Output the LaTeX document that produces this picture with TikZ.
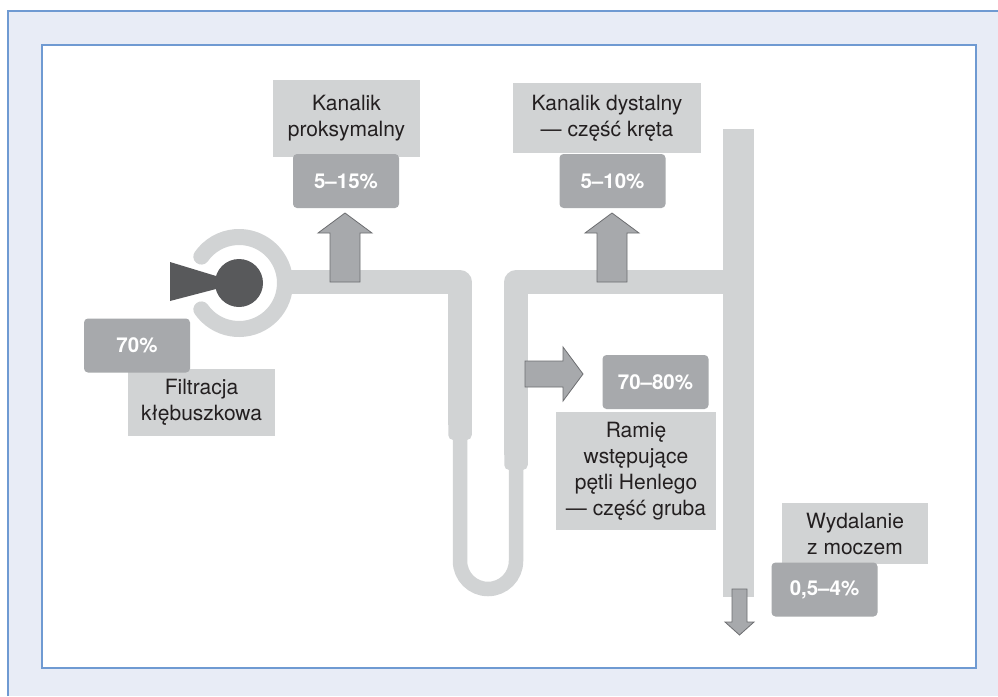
\documentclass[tikz,border=0pt]{standalone}
\usepackage{fontspec}
\setmainfont{TeX Gyre Heros}
\definecolor{framefill}{HTML}{E8ECF6}
\definecolor{frameline}{HTML}{6F9AD2}
\definecolor{tubegray}{HTML}{D1D3D4}
\definecolor{pctgray}{HTML}{A7A9AC}
\definecolor{arrowline}{HTML}{6D6E71}
\definecolor{glomgray}{HTML}{58595B}
\definecolor{textdark}{HTML}{231F20}
\tikzset{
  txtbox/.style={fill=tubegray, text=textdark, align=center, inner sep=0pt,
    font=\fontsize{21}{26}\selectfont},
  pctbox/.style={fill=pctgray, rounded corners=4pt, text=white, inner sep=0pt,
    minimum width=106pt, minimum height=54pt, font=\fontsize{20.5}{24}\selectfont\bfseries},
  tube/.style={draw=tubegray, line width=23.5pt, line join=round},
  thintube/.style={draw=tubegray, line width=14.5pt},
  blockarrow/.style={fill=pctgray, draw=arrowline, line width=0.8pt}
}
\newcommand{\uparr}[1]{
  \draw[blockarrow, shift={(#1)}] (0,0) -- (27,20) -- (15,20) -- (15,69)
     -- (-15,69) -- (-15,20) -- (-27,20) -- cycle;
}
\begin{document}
\begin{tikzpicture}[x=1pt,y=-1pt]
  \useasboundingbox (0,0) rectangle (998,696);
  % frame
  \fill[framefill] (8,11) rectangle (998,696);
  \draw[frameline, line width=1.3pt] (8,696) -- (8,11) -- (998,11);
  \draw[frameline, fill=white, line width=1.3pt] (42,45) rectangle (976,668);

  \coordinate (glom) at (239,283);
  \coordinate (pt) at (460,282);   % proximal corner
  \coordinate (dt) at (516,282);   % distal corner

  % tubule
  \draw[tubegray, line width=16pt, line cap=round] ([shift={(145:46)}]glom) arc (145:-145:46);
  \draw[thintube] (460,430) -- (460,561) arc (180:0:28) -- (516,465);
  \draw[tube] (286,282) -- (pt) -- (460,425);
  \fill[tubegray, rounded corners=5pt] (448.25,410) rectangle (471.75,440);
  \draw[tube] (516,455) -- (dt) -- (740,282);
  \fill[tubegray, rounded corners=5pt] (504.25,440) rectangle (527.75,470);
  \fill[tubegray] (723,129) rectangle (754,597); % collecting duct

  % glomerulus
  \fill[glomgray] (170,262) -- (170,301) -- (glom) -- cycle;
  \fill[glomgray] (glom) circle (24);

  % arrows
  \uparr{345,213}
  \uparr{612,213}
  \draw[blockarrow, shift={(583,374)}] (0,0) -- (-20,-27) -- (-20,-13) -- (-58,-13)
     -- (-58,13) -- (-20,13) -- (-20,27) -- cycle;
  \draw[blockarrow, shift={(739.5,635)}] (0,0) -- (-14.5,-13) -- (-7.5,-13) -- (-7.5,-46)
     -- (7.5,-46) -- (7.5,-13) -- (14.5,-13) -- cycle;

  % labels
  \node[txtbox, minimum width=147pt, minimum height=77pt] (prox) at (346.5,118.5) {Kanalik\\proksymalny};
  \node[pctbox] (proxpct) at (346,181) {5–15\%};
  \node[txtbox, minimum width=188pt, minimum height=70pt] (dist) at (607,118) {Kanalik dystalny\\— część kręta};
  \node[pctbox] (distpct) at (612.5,181) {5–10\%};
  \node[txtbox, minimum width=147pt, minimum height=67pt] (filt) at (201.5,402.5) {Filtracja\\kłębuszkowa};
  \node[pctbox] (filtpct) at (137,345.5) {70\%};
  \node[txtbox, minimum width=160pt, minimum height=118pt] (henle) at (636,471) {Ramię\\wstępujące\\pętli Henlego\\— część gruba};
  \node[pctbox] (henlepct) at (655.5,382) {70–80\%};
  \node[txtbox, minimum width=146pt, minimum height=61pt] (urine) at (855,533.5) {Wydalanie\\z moczem};
  \node[pctbox] (urinepct) at (824.5,589.5) {0,5–4\%};
\end{tikzpicture}
\end{document}
